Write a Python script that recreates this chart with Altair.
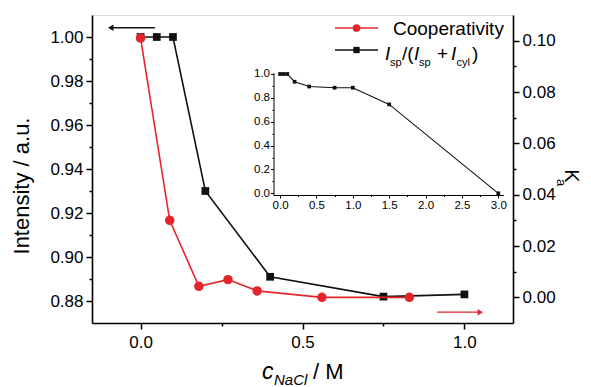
import altair as alt
import pandas as pd

FONT = "Liberation Sans"
RED = "#e3262b"
BLK = "#111111"

# ---- data ----
x_black = [0.0, 0.05, 0.1, 0.2, 0.4, 0.75, 1.0]
y_black = [1.0, 1.0, 1.0, 0.930, 0.891, 0.882, 0.883]

x_red = [0.0, 0.09, 0.18, 0.27, 0.36, 0.56, 0.83]
k_red = [0.101, 0.030, 0.0043, 0.0069, 0.0025, 0.0, 0.0]

x_inset = [0.0, 0.05, 0.1, 0.2, 0.4, 0.75, 1.0, 1.5, 3.0]
y_inset = [1.0, 1.0, 1.0, 0.935, 0.895, 0.885, 0.885, 0.745, 0.0]

left_ticks = [0.88, 0.89, 0.90, 0.91, 0.92, 0.93, 0.94, 0.95, 0.96, 0.97, 0.98, 0.99, 1.00]
right_ticks = [0.00, 0.01, 0.02, 0.03, 0.04, 0.05, 0.06, 0.07, 0.08, 0.09, 0.10]
x_ticks = [0.0, 0.25, 0.5, 0.75, 1.0]
inset_x_ticks = [0.0, 0.25, 0.5, 0.75, 1.0, 1.25, 1.5, 1.75, 2.0, 2.25, 2.5, 2.75, 3.0]
inset_y_ticks = [0.0, 0.1, 0.2, 0.3, 0.4, 0.5, 0.6, 0.7, 0.8, 0.9, 1.0]

# arrows (data coordinates on their own axes): tail, head, level
arrow_black = {"tail": [0.044], "head": [-0.092], "y": [1.0042]}
arrow_red = {"tail": [0.915], "head": [1.049], "k": [-0.0058]}

df_black = pd.DataFrame({"x": x_black, "y": y_black})
df_red = pd.DataFrame({"x": x_red, "k": k_red})
df_inset = pd.DataFrame({"x": x_inset, "y": y_inset})


def axis_style(**kw):
    base = dict(grid=False, domainColor="black", tickColor="black", labelColor="black",
                labelFont=FONT, title=None)
    base.update(kw)
    return alt.Axis(**base)


left_axis = axis_style(
    orient="left", values=left_ticks, domainWidth=1.6, tickWidth=1.5,
    labelFontSize=17, labelPadding=3,
    labelExpr="abs(round(datum.value*100))%2==1 ? '' : format(datum.value, '.2f')",
    tickSize={"condition": {"test": "abs(round(datum.value*100))%2==1", "value": 3}, "value": 6},
)
right_axis = axis_style(
    orient="right", values=right_ticks, domainWidth=1.6, tickWidth=1.5,
    labelFontSize=17, labelPadding=3,
    labelExpr="abs(round(datum.value*100))%2==1 ? '' : format(datum.value, '.2f')",
    tickSize={"condition": {"test": "abs(round(datum.value*100))%2==1", "value": 3}, "value": 6},
)
x_axis = axis_style(
    orient="bottom", values=x_ticks, domainWidth=1.6, tickWidth=1.5,
    labelFontSize=17, labelPadding=5,
    labelExpr="abs(round(datum.value*4))%2==1 ? '' : format(datum.value, '.1f')",
    tickSize={"condition": {"test": "abs(round(datum.value*4))%2==1", "value": 3}, "value": 6},
)
inset_x_axis = axis_style(
    orient="bottom", values=inset_x_ticks, domainWidth=1, tickWidth=1,
    labelFontSize=11.5, labelPadding=1, offset=-128,
    labelExpr="abs(round(datum.value*4))%2==1 ? '' : format(datum.value, '.1f')",
    tickSize={"condition": {"test": "abs(round(datum.value*4))%2==1", "value": 1.5}, "value": 3},
)
inset_y_axis = axis_style(
    orient="left", values=inset_y_ticks, domainWidth=1, tickWidth=1,
    labelFontSize=11.5, labelPadding=1, offset=-181.5,
    labelExpr="abs(round(datum.value*10))%2==1 ? '' : format(datum.value, '.1f')",
    tickSize={"condition": {"test": "abs(round(datum.value*10))%2==1", "value": 1.5}, "value": 3},
)

x_scale = alt.Scale(domain=[-0.15, 1.15], nice=False, zero=False)
yl_scale = alt.Scale(domain=[0.87, 1.01], nice=False, zero=False)
yr_scale = alt.Scale(domain=[-0.01, 0.11], nice=False, zero=False)

X_main = alt.X("x:Q", scale=x_scale, axis=x_axis)
Y_left = alt.Y("y:Q", scale=yl_scale, axis=left_axis)
Y_right = alt.Y("k:Q", scale=yr_scale, axis=right_axis)
X_ins = alt.X("x:Q", scale=alt.Scale(domain=[-0.09, 3.07], range=[181.5, 411.4], nice=False, zero=False),
              axis=inset_x_axis)
Y_ins = alt.Y("y:Q", scale=alt.Scale(domain=[-0.015, 1.01], range=[180.1, 57.8], nice=False, zero=False),
              axis=inset_y_axis)

# ---- black series (left axis) ----
b_base = alt.Chart(df_black)
black_line = b_base.mark_line(color=BLK, strokeWidth=1.6).encode(x=X_main, y=Y_left)
black_pts = b_base.mark_point(shape="square", filled=True, size=60, color=BLK, opacity=1).encode(x=X_main, y=Y_left)
ab = alt.Chart(pd.DataFrame(arrow_black))
black_arrow = ab.mark_rule(color=BLK, strokeWidth=1.3).encode(
    x=alt.X("head:Q", scale=x_scale, axis=x_axis), x2="tail:Q", y=Y_left)
black_head = ab.mark_point(shape="triangle-left", filled=True, size=40, color=BLK, opacity=1).encode(
    x=alt.X("head:Q", scale=x_scale, axis=x_axis), y=Y_left)
black_group = alt.layer(black_line, black_pts, black_arrow, black_head)

# ---- red series (right axis) ----
r_base = alt.Chart(df_red)
red_line = r_base.mark_line(color=RED, strokeWidth=1.6).encode(x=X_main, y=Y_right)
red_pts = r_base.mark_circle(size=90, color=RED, opacity=1).encode(x=X_main, y=Y_right)
ar = alt.Chart(pd.DataFrame(arrow_red))
red_arrow = ar.mark_rule(color=RED, strokeWidth=1.3).encode(
    x=alt.X("tail:Q", scale=x_scale, axis=x_axis), x2="head:Q", y=Y_right)
red_head = ar.mark_point(shape="triangle-right", filled=True, size=40, color=RED, opacity=1).encode(
    x=alt.X("head:Q", scale=x_scale, axis=x_axis), y=Y_right)
red_group = alt.layer(red_line, red_pts, red_arrow, red_head)

main_group = alt.layer(black_group, red_group).resolve_scale(y="independent")

# ---- inset ----
i_base = alt.Chart(df_inset)
inset_line = i_base.mark_line(color=BLK, strokeWidth=1.1).encode(x=X_ins, y=Y_ins)
inset_pts = i_base.mark_point(shape="square", filled=True, size=14, color=BLK, opacity=1).encode(x=X_ins, y=Y_ins)
inset_group = alt.layer(inset_line, inset_pts)


# ---- text helpers (legend, titles) ----
def txt(text, x, y, size, style="normal", angle=0, align="left", baseline="alphabetic", color="black"):
    return alt.Chart(pd.DataFrame({"t": [text]})).mark_text(
        font=FONT, fontSize=size, fontStyle=style, angle=angle, align=align,
        baseline=baseline, color=color,
    ).encode(x=alt.value(x), y=alt.value(y), text="t:N")


def seg(x1, x2, y, color):
    return alt.Chart(pd.DataFrame({"a": [0]})).mark_rule(color=color, strokeWidth=1.6).encode(
        x=alt.value(x1), x2=alt.value(x2), y=alt.value(y))


def sym(x, y, shape, size, color):
    return alt.Chart(pd.DataFrame({"a": [0]})).mark_point(
        shape=shape, filled=True, size=size, color=color, opacity=1).encode(x=alt.value(x), y=alt.value(y))


legend = [
    seg(243, 286, 13, RED), sym(264.5, 13, "circle", 60, RED),
    txt("Cooperativity", 301, 20, 19),
    seg(243, 286, 35, BLK), sym(264.5, 35, "square", 40, BLK),
    txt("I", 293, 45, 19, "italic"), txt("sp", 298, 51, 11),
    txt("/(", 310, 45, 19),
    txt("I", 322, 45, 19, "italic"), txt("sp", 327, 51, 11),
    txt("+", 345, 45, 19),
    txt("I", 359, 45, 19, "italic"), txt("cyl", 364.5, 51, 11),
    txt(")", 380, 45, 19),
]

titles = [
    txt("Intensity / a.u.", -70, 171, 22, angle=270, align="center", baseline="middle"),
    txt("K", 478.5, 161, 20, angle=90, align="center", baseline="middle"),
    txt("a", 468.5, 167.5, 13, angle=90, align="center", baseline="middle"),
    txt("c", 170, 364, 23, "italic"),
    txt("NaCl", 182, 370, 15, "italic"),
    txt("/ M", 221, 364, 22),
]

chart = alt.layer(main_group, inset_group, *legend, *titles).resolve_scale(
    x="independent", y="independent"
).properties(
    width=421, height=308,
    autosize=alt.AutoSizeParams(type="none"),
    padding={"left": 84, "top": 7, "right": 70, "bottom": 70},
).configure_view(stroke=None).configure(background="white")

chart.save("out.html", embed_options={"renderer": "svg", "actions": False})
